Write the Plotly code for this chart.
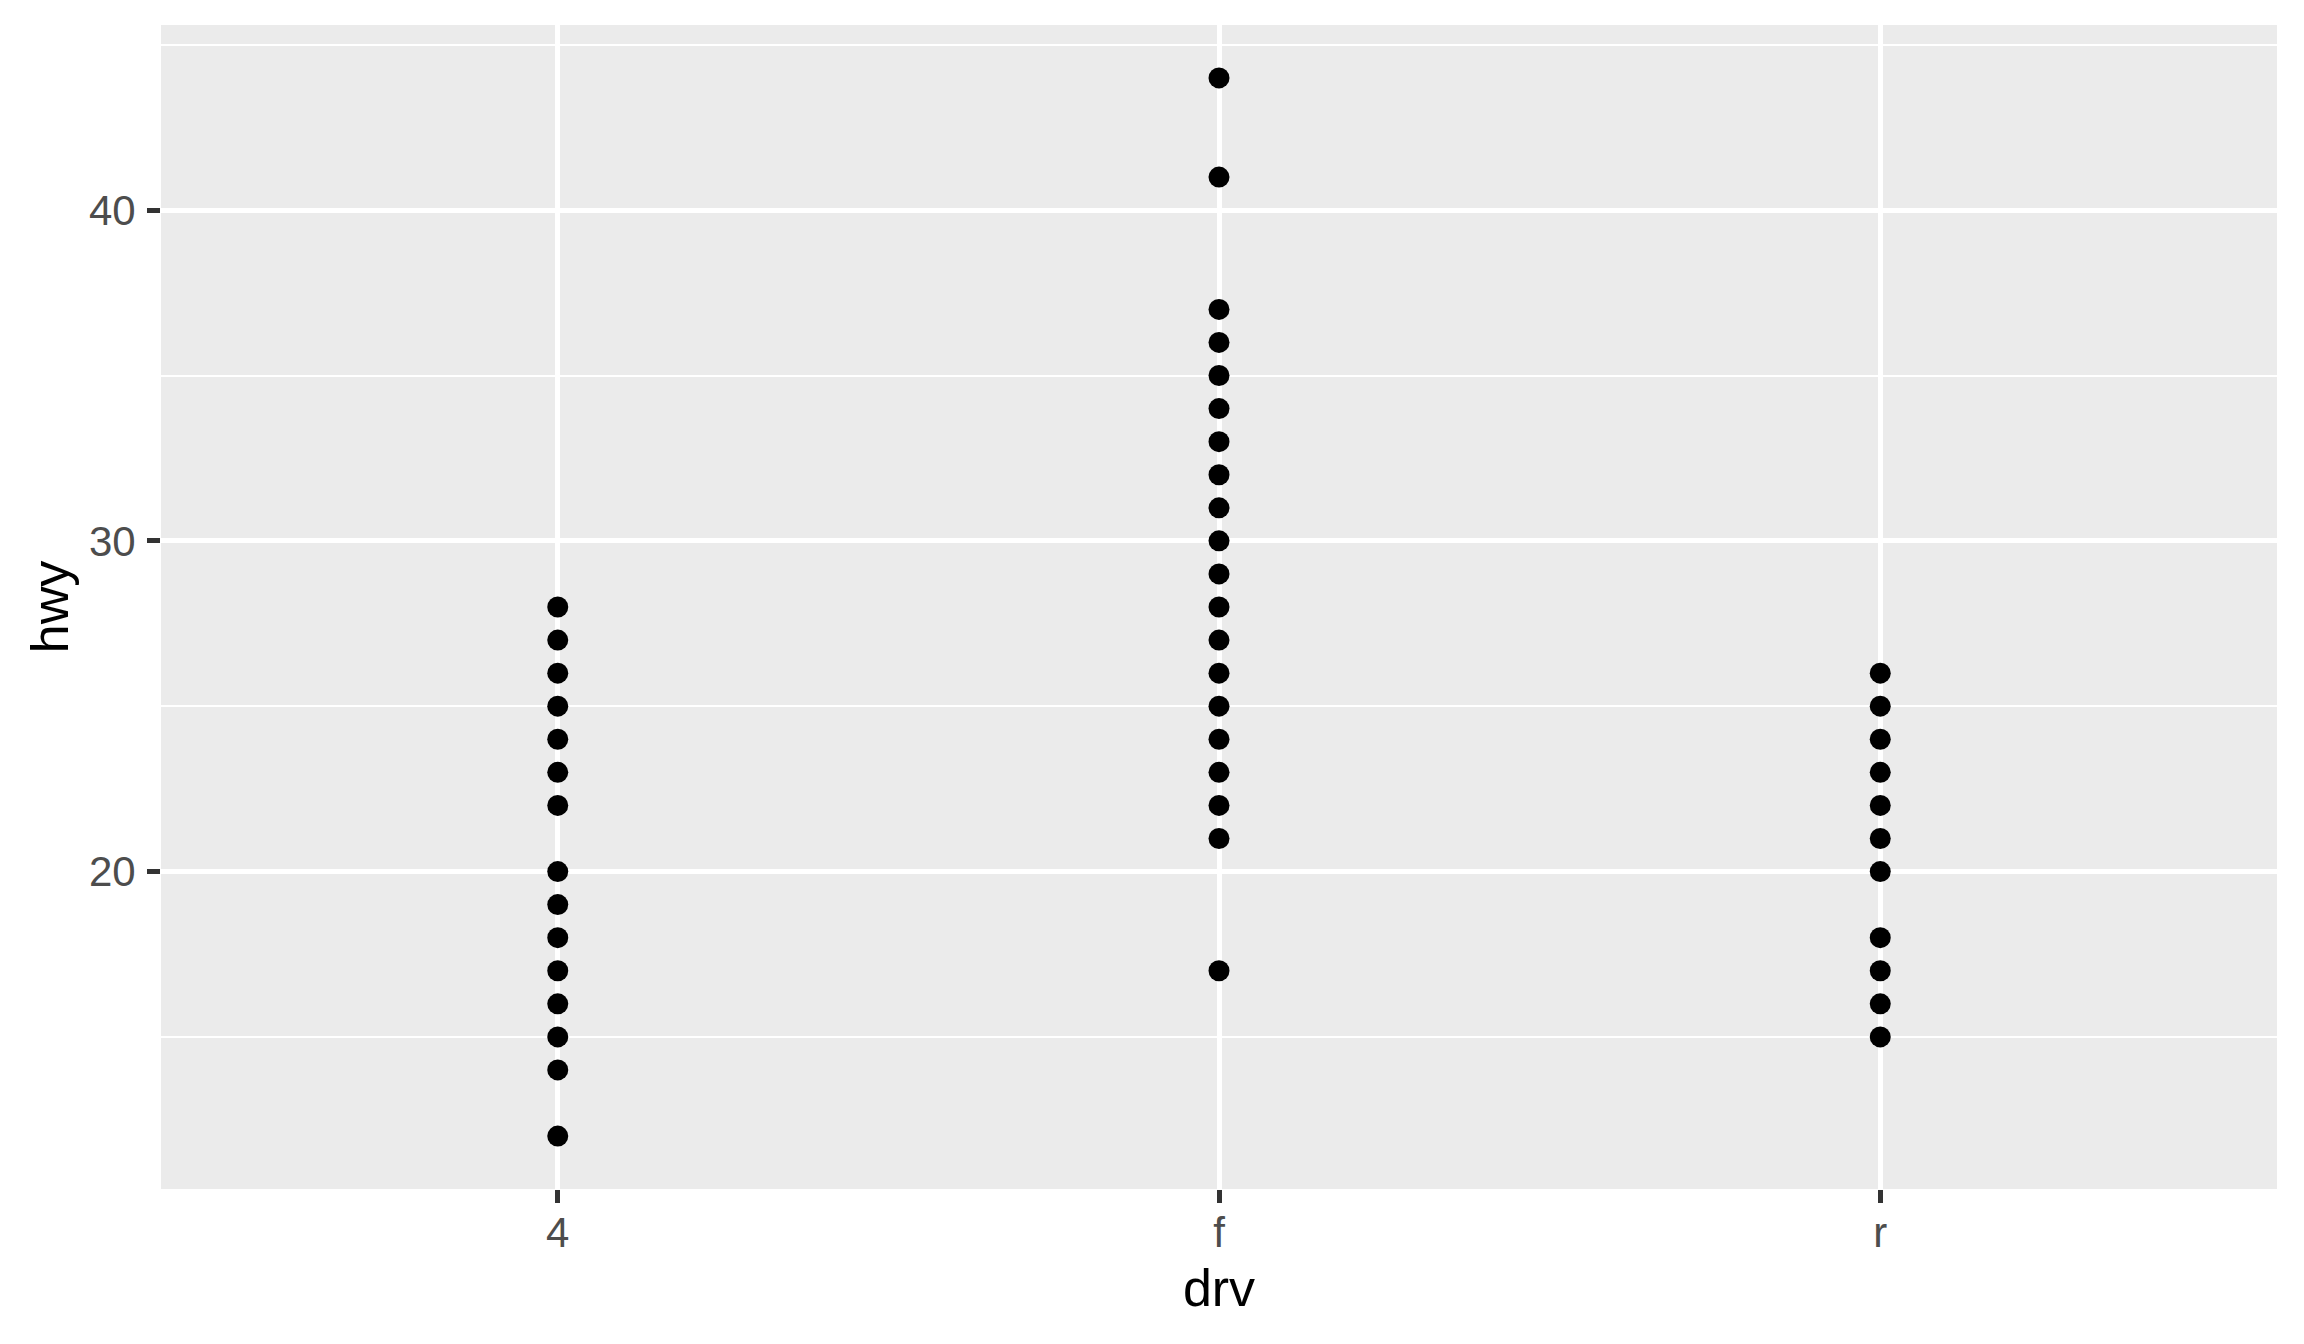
import plotly.graph_objects as go

drv_4 = [12, 14, 15, 16, 17, 18, 19, 20, 22, 23, 24, 25, 26, 27, 28]
drv_f = [17, 21, 22, 23, 24, 25, 26, 27, 28, 29, 30, 31, 32, 33, 34, 35, 36, 37, 41, 44]
drv_r = [15, 16, 17, 18, 20, 21, 22, 23, 24, 25, 26]
categories = ["4", "f", "r"]

xs, ys = [], []
for cat, vals in zip(categories, [drv_4, drv_f, drv_r]):
    xs += [categories.index(cat)] * len(vals)
    ys += vals

fig = go.Figure(go.Scatter(x=xs, y=ys, mode="markers",
                           marker=dict(color="black", size=21, line=dict(width=0)),
                           hoverinfo="skip"))

font = "Liberation Sans, Arial, sans-serif"
fig.update_layout(
    width=2296, height=1336,
    margin=dict(l=153, r=27, t=17, b=155),
    paper_bgcolor="white", plot_bgcolor="#EBEBEB",
    showlegend=False,
    font=dict(family=font),
    xaxis=dict(range=[-0.6, 2.6], tickvals=[0, 1, 2], ticktext=categories,
               showgrid=True, gridcolor="white", gridwidth=4.5,
               zeroline=False, ticks="outside", ticklen=13, tickwidth=4.5, tickcolor="#333333",
               ticklabelstandoff=-6,
               tickfont=dict(size=42, color="#4D4D4D"),
               title=dict(text="drv", font=dict(size=52, color="black"), standoff=14)),
    yaxis=dict(range=[10.4, 45.6], tickvals=[20, 30, 40],
               showgrid=True, gridcolor="white", gridwidth=4.5,
               minor=dict(tickvals=[15, 25, 35, 45], showgrid=True, gridcolor="white", gridwidth=2.3),
               zeroline=False, ticks="outside", ticklen=13, tickwidth=4.5, tickcolor="#333333",
               ticklabelstandoff=3,
               tickfont=dict(size=42, color="#4D4D4D"),
               title=dict(text="hwy", font=dict(size=52, color="black"), standoff=3)),
)

fig.write_html("out.html")
